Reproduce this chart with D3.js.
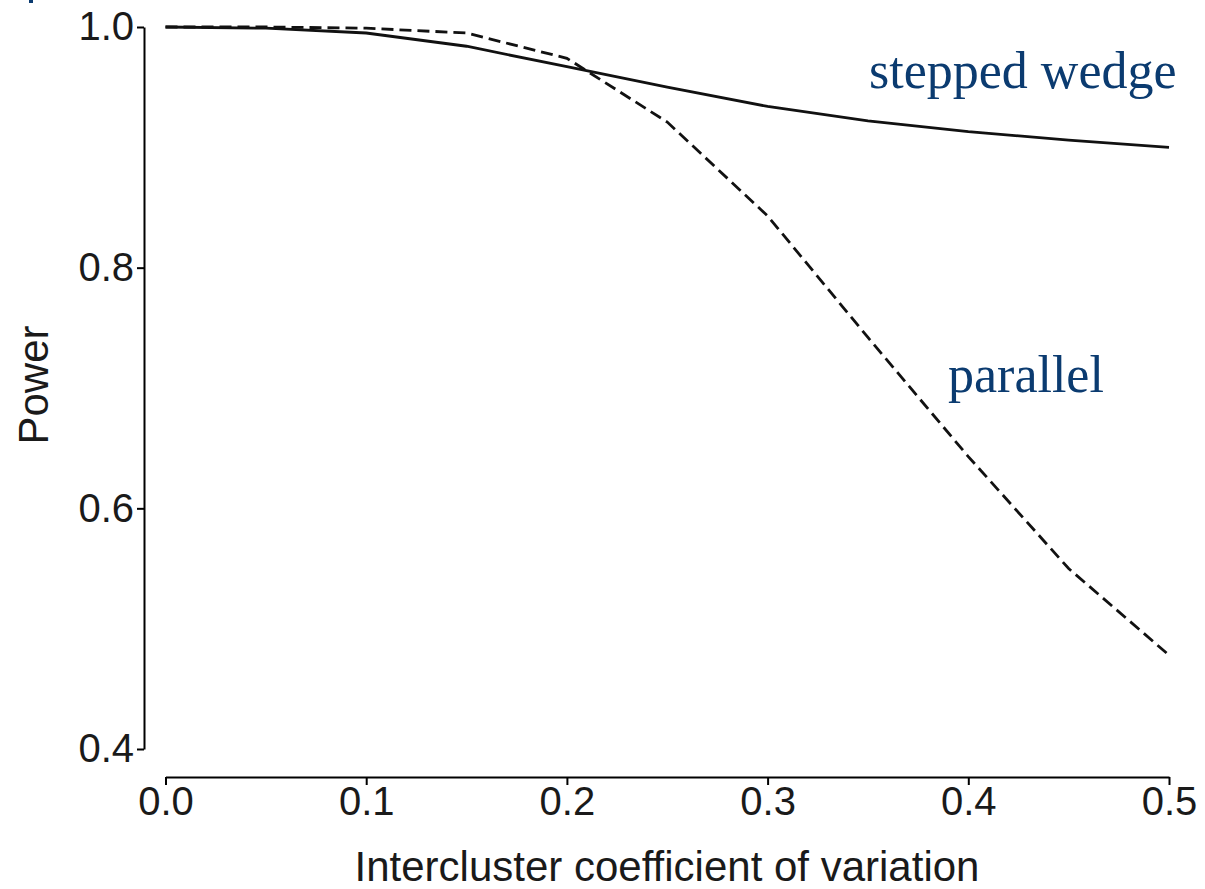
<!DOCTYPE html>
<html>
<head>
<meta charset="utf-8">
<script src="https://cdn.jsdelivr.net/npm/d3@7"></script>
<style>
	body { margin: 0; background: #fff; }
	svg { display: block; }
</style>
</head>
<body>
<div id="chart"></div>
<script>
// intercluster coefficient of variation
var cvValues = [0, 0.05, 0.1, 0.15, 0.2, 0.25, 0.3, 0.35, 0.4, 0.45, 0.5];
// power, stepped wedge design
var steppedWedge = [1.0, 0.999, 0.995, 0.984, 0.967, 0.950, 0.934, 0.922, 0.913, 0.906, 0.900];
// power, parallel design
var parallel = [1.0, 1.0, 0.999, 0.995, 0.974, 0.921, 0.843, 0.742, 0.643, 0.550, 0.478];
var xTicks = [0, 0.1, 0.2, 0.3, 0.4, 0.5];
var yTicks = [0.4, 0.6, 0.8, 1.0];
var navy = "#0b3b70";

function drawPowerPlot(identifier) {
	var width = 1205, height = 889;

	var x = d3.scaleLinear().domain([ 0, 0.5 ]).range([ 165.5, 1169 ]);
	var y = d3.scaleLinear().domain([ 0.4, 1.0 ]).range([ 749, 27 ]);

	var svg = d3.select(identifier).append("svg").attr("width", width)
			.attr("height", height);

	// small blue mark left over in the corner of the figure
	svg.append("rect").attr("x", 29).attr("y", 0).attr("width", 4)
			.attr("height", 3).attr("fill", navy);

	var yAxis = svg.append("g").attr("transform", "translate(144,0)").call(
			d3.axisLeft(y).tickValues(yTicks).tickSize(7).tickSizeOuter(0)
					.tickPadding(3).tickFormat(d3.format(".1f")));

	var xAxis = svg.append("g").attr("transform", "translate(0,777)").call(
			d3.axisBottom(x).tickValues(xTicks).tickSize(8).tickSizeOuter(0)
					.tickPadding(2).tickFormat(d3.format(".1f")));

	[ yAxis, xAxis ].forEach(function(g) {
		g.selectAll("path, line").attr("stroke", "#000").attr("stroke-width", 2);
		g.selectAll("text").attr("font-family", "'Liberation Sans', Arial, sans-serif")
				.attr("font-size", 40).attr("fill", "#1a1a1a");
	});

	svg.append("text").attr("x", 667).attr("y", 881).attr("text-anchor", "middle")
			.attr("font-family", "'Liberation Sans', Arial, sans-serif")
			.attr("font-size", 42).attr("fill", "#1a1a1a")
			.text("Intercluster coefficient of variation");

	svg.append("text").attr("transform", "translate(48,385) rotate(-90)")
			.attr("text-anchor", "middle")
			.attr("font-family", "'Liberation Sans', Arial, sans-serif")
			.attr("font-size", 42).attr("fill", "#1a1a1a").text("Power");

	var line = d3.line().x(function(d, i) {
		return x(cvValues[i]);
	}).y(function(d) {
		return y(d);
	});

	svg.append("path").datum(steppedWedge).attr("d", line).attr("fill", "none")
			.attr("stroke", "#111").attr("stroke-width", 2.8);

	svg.append("path").datum(parallel).attr("d", line).attr("fill", "none")
			.attr("stroke", "#111").attr("stroke-width", 2.8)
			.attr("stroke-dasharray", "12,6");

	svg.append("text").attr("x", 869).attr("y", 88)
			.attr("font-family", "'Liberation Serif', 'Times New Roman', serif")
			.attr("font-size", 52).attr("fill", navy).text("stepped wedge");

	svg.append("text").attr("x", 948).attr("y", 392)
			.attr("font-family", "'Liberation Serif', 'Times New Roman', serif")
			.attr("font-size", 52).attr("fill", navy).text("parallel");
}

drawPowerPlot("#chart");
</script>
</body>
</html>
